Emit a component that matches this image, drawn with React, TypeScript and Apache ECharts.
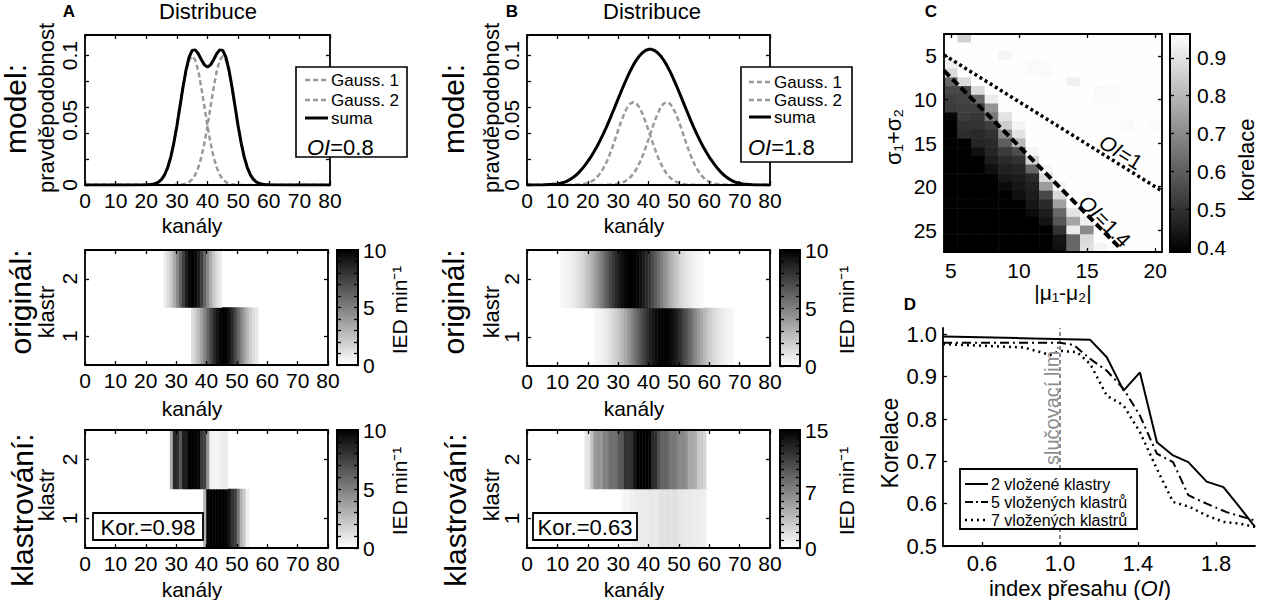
import React, { useEffect, useRef } from "react";
import * as echarts from "echarts";

const FONT = '"Liberation Sans", Arial, Helvetica, sans-serif';

// ---------- Panels A, B: distributions ----------
const channelTicks = [0, 10, 20, 30, 40, 50, 60, 70, 80];
const probLabels = [0, 0.05, 0.1];
const probTicks = [0, 0.02, 0.04, 0.06, 0.08, 0.1];

const chanA = [0, 5, 10, 15, 20, 21, 22, 23, 24, 25, 26, 27, 28, 29, 30, 31, 32, 33, 34, 35, 36, 37, 38, 39, 40, 41, 42, 43, 44, 45, 46, 47, 48, 49, 50, 51, 52, 53, 54, 55, 56, 57, 58, 59, 60, 65, 70, 75, 80];
const gauss1A = [0, 0, 0, 0,
  0.0001, 0.0002, 0.0005, 0.0011, 0.0023, 0.0044, 0.0079, 0.0135, 0.0216, 0.0324,
  0.0456, 0.0605, 0.0753, 0.0880, 0.0966, 0.0997, 0.0966, 0.0880, 0.0753, 0.0605,
  0.0456, 0.0324, 0.0216, 0.0135, 0.0079, 0.0044, 0.0023, 0.0011, 0.0005, 0.0002,
  0.0001, 0, 0, 0, 0, 0, 0, 0, 0, 0, 0,
  0, 0, 0, 0];
const gauss2A = [0, 0, 0, 0,
  0, 0, 0, 0, 0, 0, 0, 0, 0, 0,
  0.0001, 0.0002, 0.0005, 0.0011, 0.0023, 0.0044, 0.0079, 0.0135, 0.0216, 0.0324,
  0.0456, 0.0605, 0.0753, 0.0880, 0.0966, 0.0997, 0.0966, 0.0880, 0.0753, 0.0605,
  0.0456, 0.0324, 0.0216, 0.0135, 0.0079, 0.0044, 0.0023, 0.0011, 0.0005, 0.0002, 0.0001,
  0, 0, 0, 0];
const sumaA = [0, 0, 0, 0,
  0.0001, 0.0002, 0.0005, 0.0011, 0.0023, 0.0044, 0.0079, 0.0135, 0.0216, 0.0324,
  0.0457, 0.0607, 0.0758, 0.0891, 0.0989, 0.1041, 0.1045, 0.1015, 0.0969, 0.0929,
  0.0912, 0.0929, 0.0969, 0.1015, 0.1045, 0.1041, 0.0989, 0.0891, 0.0758, 0.0607,
  0.0457, 0.0324, 0.0216, 0.0135, 0.0079, 0.0044, 0.0023, 0.0011, 0.0005, 0.0002, 0.0001,
  0, 0, 0, 0];

const chanB = [0, 5, 10, 11, 12, 13, 14, 15, 16, 17, 18, 19, 20, 21, 22, 23, 24, 25, 26, 27, 28, 29, 30, 31, 32, 33, 34, 35, 36, 37, 38, 39, 40, 41, 42, 43, 44, 45, 46, 47, 48, 49, 50, 51, 52, 53, 54, 55, 56, 57, 58, 59, 60, 61, 62, 63, 64, 65, 66, 67, 68, 69, 70, 71, 75, 80];
const gauss1B = [0, 0,
  0, 0, 0, 0, 0,
  0.0001, 0.0002, 0.0003, 0.0005, 0.0009, 0.0016, 0.0025, 0.0039, 0.0059, 0.0087,
  0.0123, 0.0168, 0.0222, 0.0285, 0.0353, 0.0423, 0.0491, 0.0552, 0.0599, 0.0630,
  0.0640, 0.0630, 0.0599, 0.0552, 0.0491, 0.0423, 0.0353, 0.0285, 0.0222, 0.0168,
  0.0123, 0.0087, 0.0059, 0.0039, 0.0025, 0.0016, 0.0009, 0.0005, 0.0003, 0.0002, 0.0001,
  0, 0, 0, 0, 0, 0, 0, 0, 0, 0, 0, 0, 0, 0, 0, 0,
  0, 0];
const gauss2B = [0, 0,
  0, 0, 0, 0, 0, 0, 0, 0, 0, 0, 0, 0, 0, 0, 0, 0,
  0.0001, 0.0002, 0.0003, 0.0005, 0.0009, 0.0016, 0.0025, 0.0039, 0.0059, 0.0087,
  0.0123, 0.0168, 0.0222, 0.0285, 0.0353, 0.0423, 0.0491, 0.0552, 0.0599, 0.0630,
  0.0640, 0.0630, 0.0599, 0.0552, 0.0491, 0.0423, 0.0353, 0.0285, 0.0222, 0.0168,
  0.0123, 0.0087, 0.0059, 0.0039, 0.0025, 0.0016, 0.0009, 0.0005, 0.0003, 0.0002, 0.0001,
  0, 0, 0, 0, 0,
  0, 0];
const sumaB = [0, 0,
  0.0008, 0.0013, 0.0019, 0.0028, 0.0040, 0.0055, 0.0073, 0.0095, 0.0121, 0.0150,
  0.0182, 0.0216, 0.0255, 0.0296, 0.0341, 0.0389, 0.0440, 0.0494, 0.0551, 0.0608,
  0.0666, 0.0723, 0.0779, 0.0832, 0.0882, 0.0927, 0.0966, 0.0998, 0.1023, 0.1040, 0.1049,
  0.1049, 0.1040, 0.1023, 0.0998, 0.0966, 0.0927, 0.0882, 0.0832, 0.0779, 0.0723, 0.0666,
  0.0608, 0.0551, 0.0494, 0.0440, 0.0389, 0.0341, 0.0296, 0.0255, 0.0216, 0.0182,
  0.0150, 0.0121, 0.0095, 0.0073, 0.0055, 0.0040, 0.0028, 0.0019, 0.0013, 0.0008,
  0, 0];

// ---------- heatmaps (IED min^-1 per channel), row 0 = cluster 1, row 1 = cluster 2 ----------
const clusterCats = ["1", "2"];
const clusterTicks = [1, 2];
const iedTicks10 = [0, 1, 2, 3, 4, 5, 6, 7, 8, 9, 10];
const iedLabels10 = [0, 5, 10];
const iedTicks15 = [0, 1, 2, 3, 4, 5, 6, 7, 8, 9, 10, 11, 12, 13, 14, 15];
const iedLabels15 = [0, 7, 15];

const aOrigRow1Start = 35;
const aOrigRow1 = [1.35, 1.98, 2.78, 3.75, 4.87, 6.07, 7.26, 8.35, 9.23, 9.8, 10, 9.8, 9.23, 8.35, 7.26, 6.07, 4.87, 3.75, 2.78, 1.98, 1.35, 0.89];
const aOrigRow2Start = 26;
const aOrigRow2 = [0.8, 1.35, 2.16, 3.25, 4.58, 6.07, 7.55, 8.83, 9.69, 10, 9.69, 8.83, 7.55, 6.07, 4.58, 3.25, 2.16, 1.35, 0.8];

const aClusRow1Start = 39;
const aClusRow1 = [3.0, 9.8, 10, 10, 10, 10, 10, 9.7, 9.2, 8.0, 7.6, 5.5, 3.0, 2.0, 0.6];
const aClusRow2Start = 28;
const aClusRow2 = [3.3, 8.4, 8.2, 6.5, 8.8, 9.0, 10, 10, 9.9, 9.7, 7.8, 7.4, 4.1, 0.6, 0.4, 0.4, 0.5, 0.8, 0.7];

const bOrigRow1Start = 22;
const bOrigRow1 = [0.3, 0.41, 0.55, 0.72, 0.94, 1.2, 1.52, 1.9, 2.33, 2.83, 3.39, 4.0, 4.66, 5.36, 6.07, 6.78, 7.46, 8.11, 8.69, 9.19, 9.58, 9.84, 9.98,
  9.98, 9.84, 9.58, 9.19, 8.69, 8.11, 7.46, 6.78, 6.07, 5.36, 4.66, 4.0, 3.39, 2.83, 2.33, 1.9, 1.52, 1.2, 0.94, 0.72, 0.55, 0.41, 0.3];
const bOrigRow2Start = 11;
const bOrigRow2 = [0.26, 0.35, 0.47, 0.63, 0.82, 1.06, 1.35, 1.7, 2.11, 2.57, 3.1, 3.69, 4.33, 5.0, 5.71, 6.42, 7.12, 7.79, 8.41, 8.95, 9.4, 9.73, 9.93, 10,
  9.93, 9.73, 9.4, 8.95, 8.41, 7.79, 7.12, 6.42, 5.71, 5.0, 4.33, 3.69, 3.1, 2.57, 2.11, 1.7, 1.35, 1.06, 0.82, 0.63, 0.47, 0.35, 0.26];

const bClusRow1Start = 31;
const bClusRow1 = [0.5, 0.6, 0.6, 0.8, 1.0, 1.2, 1.2, 1.3, 1.2, 1.3, 1.4, 1.2, 1.5, 1.8, 1.7, 1.8, 1.6, 1.9, 1.7, 1.4, 1.3, 1.2, 1.3, 1.2, 1.1, 1.2, 1.0, 0.9];
const bClusRow2Start = 19;
const bClusRow2 = [1.5, 1.8, 3.8, 6.0, 6.3, 6.0, 7.4, 7.2, 8.5, 8.3, 8.6, 9.7, 9.9, 12.0, 11.8, 12.2, 13.8, 15, 15, 15, 15, 14.8, 12.6, 12.4, 10.3, 9.1, 9.3, 8.8, 7.9, 8.1, 7.6, 6.8, 7.0, 6.5, 5.0, 5.2, 4.8, 3.2, 3.0, 2.4];

// ---------- Panel C: correlation map ----------
const muDiff = [5, 6, 7, 8, 9, 10, 11, 12, 13, 14, 15, 16, 17, 18, 19, 20];
const sigmaSum = [3, 4, 5, 6, 7, 8, 9, 10, 11, 12, 13, 14, 15, 16, 17, 18, 19, 20, 21, 22, 23, 24, 25, 26, 27];
const corrTicksX = [5, 10, 15, 20];
const corrTicksY = [5, 10, 15, 20, 25];
const corrBarLabels = [0.4, 0.5, 0.6, 0.7, 0.8, 0.9];
const corrMin = 0.387;
const corrMax = 0.963;
const corrRows = [
  [0.96, 0.86, 0.96, 0.96, 0.96, 0.96, 0.96, 0.96, 0.96, 0.96, 0.96, 0.96, 0.96, 0.96, 0.96, 0.96],
  [0.96, 0.96, 0.96, 0.96, 0.96, 0.96, 0.96, 0.96, 0.96, 0.96, 0.96, 0.96, 0.96, 0.96, 0.96, 0.96],
  [0.96, 0.96, 0.96, 0.96, 0.94, 0.96, 0.96, 0.96, 0.96, 0.96, 0.96, 0.96, 0.96, 0.96, 0.96, 0.96],
  [0.93, 0.96, 0.96, 0.96, 0.96, 0.96, 0.95, 0.955, 0.96, 0.96, 0.96, 0.96, 0.96, 0.96, 0.96, 0.96],
  [0.88, 0.96, 0.96, 0.96, 0.96, 0.96, 0.955, 0.95, 0.96, 0.96, 0.96, 0.96, 0.96, 0.96, 0.96, 0.96],
  [0.62, 0.88, 0.96, 0.96, 0.96, 0.96, 0.96, 0.96, 0.96, 0.93, 0.96, 0.96, 0.96, 0.96, 0.96, 0.96],
  [0.55, 0.55, 0.88, 0.96, 0.96, 0.96, 0.96, 0.96, 0.96, 0.96, 0.96, 0.95, 0.955, 0.96, 0.96, 0.96],
  [0.53, 0.54, 0.62, 0.92, 0.96, 0.96, 0.96, 0.96, 0.96, 0.96, 0.96, 0.955, 0.95, 0.96, 0.96, 0.96],
  [0.52, 0.53, 0.53, 0.72, 0.96, 0.96, 0.96, 0.96, 0.96, 0.96, 0.96, 0.96, 0.96, 0.96, 0.96, 0.96],
  [0.40, 0.52, 0.51, 0.66, 0.90, 0.96, 0.96, 0.96, 0.96, 0.96, 0.96, 0.96, 0.96, 0.96, 0.96, 0.96],
  [0.387, 0.50, 0.50, 0.53, 0.85, 0.94, 0.96, 0.96, 0.96, 0.96, 0.96, 0.96, 0.96, 0.95, 0.96, 0.95],
  [0.387, 0.49, 0.48, 0.50, 0.70, 0.90, 0.96, 0.96, 0.96, 0.96, 0.96, 0.96, 0.96, 0.96, 0.96, 0.96],
  [0.387, 0.387, 0.47, 0.48, 0.60, 0.80, 0.96, 0.96, 0.96, 0.96, 0.96, 0.96, 0.96, 0.96, 0.96, 0.96],
  [0.387, 0.387, 0.42, 0.47, 0.52, 0.56, 0.94, 0.96, 0.96, 0.96, 0.96, 0.96, 0.96, 0.96, 0.96, 0.96],
  [0.387, 0.387, 0.387, 0.45, 0.48, 0.50, 0.86, 0.96, 0.96, 0.96, 0.96, 0.96, 0.96, 0.96, 0.96, 0.96],
  [0.387, 0.387, 0.387, 0.42, 0.46, 0.47, 0.62, 0.94, 0.96, 0.96, 0.96, 0.96, 0.96, 0.96, 0.96, 0.96],
  [0.387, 0.387, 0.387, 0.387, 0.44, 0.45, 0.48, 0.88, 0.96, 0.96, 0.96, 0.96, 0.96, 0.96, 0.96, 0.96],
  [0.387, 0.387, 0.387, 0.387, 0.41, 0.44, 0.46, 0.74, 0.94, 0.96, 0.96, 0.96, 0.96, 0.96, 0.96, 0.96],
  [0.387, 0.387, 0.387, 0.387, 0.387, 0.42, 0.45, 0.55, 0.88, 0.96, 0.96, 0.96, 0.96, 0.96, 0.96, 0.96],
  [0.387, 0.387, 0.387, 0.387, 0.387, 0.387, 0.44, 0.48, 0.75, 0.96, 0.96, 0.96, 0.96, 0.96, 0.96, 0.96],
  [0.387, 0.387, 0.387, 0.387, 0.387, 0.387, 0.41, 0.45, 0.62, 0.90, 0.96, 0.96, 0.96, 0.96, 0.96, 0.96],
  [0.387, 0.387, 0.387, 0.387, 0.387, 0.387, 0.387, 0.43, 0.58, 0.76, 0.93, 0.96, 0.96, 0.96, 0.96, 0.96],
  [0.387, 0.387, 0.387, 0.387, 0.387, 0.387, 0.387, 0.387, 0.50, 0.92, 0.70, 0.96, 0.96, 0.96, 0.96, 0.96],
  [0.387, 0.387, 0.387, 0.387, 0.387, 0.387, 0.387, 0.387, 0.43, 0.62, 0.88, 0.96, 0.96, 0.96, 0.96, 0.96],
  [0.387, 0.387, 0.387, 0.387, 0.387, 0.387, 0.387, 0.387, 0.42, 0.62, 0.89, 0.94, 0.96, 0.96, 0.96, 0.96],
];
const oi1X = [4.5, 20.5];
const oi1Y = [4.9, 20.5];
const oi14X = [4.5, 17.45];
const oi14Y = [6.7, 27.1];

// ---------- Panel D: correlation vs overlap index ----------
const olTicks = [0.6, 1.0, 1.4, 1.8];
const korTicks = [0.5, 0.6, 0.7, 0.8, 0.9, 1.0];
const kor2X = [0.4, 0.8, 1.155, 1.24, 1.326, 1.41, 1.497, 1.58, 1.658, 1.752, 1.838, 1.914, 2.0];
const kor2Y = [0.995, 0.991, 0.987, 0.946, 0.867, 0.91, 0.745, 0.714, 0.698, 0.652, 0.639, 0.596, 0.545];
const kor5X = [0.4, 0.7, 1.0, 1.07, 1.155, 1.24, 1.326, 1.41, 1.497, 1.58, 1.658, 1.752, 1.854, 2.0];
const kor5Y = [0.98, 0.98, 0.98, 0.975, 0.942, 0.914, 0.871, 0.808, 0.718, 0.698, 0.62, 0.6, 0.58, 0.56];
const kor7X = [0.4, 0.814, 0.9, 0.95, 1.0, 1.087, 1.155, 1.24, 1.326, 1.41, 1.497, 1.58, 1.667, 1.752, 1.838, 1.92, 2.0];
const kor7Y = [0.977, 0.969, 0.958, 0.951, 0.961, 0.958, 0.93, 0.855, 0.832, 0.769, 0.682, 0.604, 0.592, 0.572, 0.557, 0.553, 0.545];
const mergeX = [1.0, 1.0];
const mergeY = [0.5, 1.015];

const chanCats = Array.from({ length: 80 }, (_, i) => String(i));

function buildOption() {
  const grid: any[] = [];
  const xAxis: any[] = [];
  const yAxis: any[] = [];
  const series: any[] = [];
  const visualMap: any[] = [];
  const els: any[] = [];

  const addGrid = (left: number, top: number, width: number, height: number) => {
    grid.push({ left, top, width, height, containLabel: false });
    return grid.length - 1;
  };
  const addX = (o: any) => { xAxis.push(o); return xAxis.length - 1; };
  const addY = (o: any) => { yAxis.push(o); return yAxis.length - 1; };

  const valAx = (gi: number, min: number, max: number, position: string, ticks: number[] | null, labels: number[] | null, lab: any = {}, more: any = {}) => ({
    type: "value", gridIndex: gi, min, max, position,
    axisLine: { show: true, onZero: false, lineStyle: { color: "#000", width: 1.8 } },
    splitLine: { show: false },
    axisTick: ticks ? { show: true, inside: true, length: 4, customValues: ticks, lineStyle: { color: "#000", width: 1.3 } } : { show: false },
    axisLabel: labels ? { show: true, customValues: labels, color: "#000", fontFamily: FONT, fontSize: 21, margin: 6, ...lab } : { show: false },
    z: 10,
    ...more,
  });

  const framed = (gi: number, xmin: number, xmax: number, xTicks: number[], xLabels: number[], xLab: any,
    ymin: number, ymax: number, yTicks: number[], yLabels: number[], yLab: any, opts: any = {}) => {
    const xi = addX(valAx(gi, xmin, xmax, "bottom", xTicks, xLabels, xLab));
    const yi = addY(valAx(gi, ymin, ymax, "left", yTicks, yLabels, yLab, opts.yMore || {}));
    if (opts.box !== false) {
      addX(valAx(gi, xmin, xmax, "top", xTicks, null));
      addY(valAx(gi, ymin, ymax, "right", yTicks, null, {}, opts.yMore || {}));
    }
    return [xi, yi];
  };

  const pairs = (xs: number[], ys: number[]) => xs.map((x, i) => [x, ys[i]]);

  const line = (xi: number, yi: number, data: number[][], color: string, width: number, type: any, z = 3) => {
    series.push({
      type: "line", xAxisIndex: xi, yAxisIndex: yi, data, symbol: "none", showSymbol: false,
      lineStyle: { color, width, type, cap: "butt" }, silent: true, z, animation: false,
    });
  };

  const T = (x: number, y: number, text: string, size: number, o: any = {}) => ({
    type: "text", x, y, rotation: o.rot || 0, z: 100, silent: true,
    style: {
      text, fontSize: size, fontFamily: FONT, fontWeight: o.bold ? "bold" : "normal",
      fontStyle: o.italic ? "italic" : "normal", fill: o.color || "#000",
      textAlign: o.align || "center", textVerticalAlign: "middle",
      align: o.align || "center", verticalAlign: "middle",
      rich: o.rich,
    },
  });
  const R = (x: number, y: number, w: number, h: number, fill: any, stroke: string, lw: number, z = 99) => ({
    type: "rect", shape: { x, y, width: w, height: h }, z, silent: true,
    style: { fill, stroke, lineWidth: lw },
  });
  const L = (x1: number, y1: number, x2: number, y2: number, stroke: string, lw: number, dash?: number[]) => ({
    type: "line", shape: { x1, y1, x2, y2 }, z: 100, silent: true,
    style: { stroke, lineWidth: lw, lineDash: dash || null },
  });
  const R90 = Math.PI / 2;
  const italicRich = (size: number) => ({ i: { fontStyle: "italic", fontSize: size, fontFamily: FONT, fill: "#000" } });

  const GAUSS = "#9a9a9a";

  // ----- top distribution panels -----
  const topPanel = (left: number, width: number, chan: number[], g1: number[], g2: number[], s: number[]) => {
    const gi = addGrid(left, 35, width, 150);
    const [xi, yi] = framed(gi, 0, 80, channelTicks, channelTicks, { margin: 5 },
      0, 0.116, probTicks, probLabels, { rotate: 90, margin: 5, formatter: (v: number) => String(v) });
    line(xi, yi, pairs(chan, g1), GAUSS, 2.5, [5, 3], 3);
    line(xi, yi, pairs(chan, g2), GAUSS, 2.5, [5, 3], 3);
    line(xi, yi, pairs(chan, s), "#000", 3, "solid", 4);
  };
  topPanel(85, 245, chanA, gauss1A, gauss2A, sumaA);
  topPanel(527, 243, chanB, gauss1B, gauss2B, sumaB);

  // ----- heatmap panels -----
  const heatPanel = (left: number, top: number, w: number, h: number, rows: any[], vmax: number,
    cbLeft: number, cbW: number, cbTicks: number[], cbLabels: number[]) => {
    const gh = addGrid(left, top, w, h);
    const xh = addX({ type: "category", gridIndex: gh, data: chanCats, show: false });
    const yh = addY({ type: "category", gridIndex: gh, data: clusterCats, show: false });
    const data: any[] = [];
    rows.forEach((r: any) => r.vals.forEach((v: number, k: number) => data.push([r.start + k, r.row, v])));
    series.push({
      type: "heatmap", xAxisIndex: xh, yAxisIndex: yh, data, silent: true, z: 2,
      itemStyle: { borderWidth: 0 }, emphasis: { disabled: true },
    });
    visualMap.push({
      type: "continuous", show: false, seriesIndex: series.length - 1, dimension: 2,
      min: 0, max: vmax, inRange: { color: ["#ffffff", "#000000"] },
    });
    const go = addGrid(left, top, w, h);
    framed(go, 0, 80, channelTicks, channelTicks, { margin: 5 },
      0.5, 2.5, clusterTicks, clusterTicks, { rotate: 90, margin: 5 });
    const gc = addGrid(cbLeft, top, cbW, h);
    addX({ type: "value", gridIndex: gc, min: 0, max: 1, show: false });
    addY(valAx(gc, 0, vmax, "right", cbTicks, cbLabels, { margin: 5 }));
    addY(valAx(gc, 0, vmax, "left", cbTicks, null));
    els.push(R(cbLeft, top, cbW, h, new echarts.graphic.LinearGradient(0, 0, 0, 1, [
      { offset: 0, color: "#000000" }, { offset: 1, color: "#ffffff" }]), "#000", 1.8, 1));
  };
  heatPanel(85, 250, 243, 115, [
    { start: aOrigRow1Start, vals: aOrigRow1, row: 0 },
    { start: aOrigRow2Start, vals: aOrigRow2, row: 1 }], 10, 337, 21, iedTicks10, iedLabels10);
  heatPanel(85, 430, 243, 118, [
    { start: aClusRow1Start, vals: aClusRow1, row: 0 },
    { start: aClusRow2Start, vals: aClusRow2, row: 1 }], 10, 337, 21, iedTicks10, iedLabels10);
  heatPanel(527, 250, 243, 116, [
    { start: bOrigRow1Start, vals: bOrigRow1, row: 0 },
    { start: bOrigRow2Start, vals: bOrigRow2, row: 1 }], 10, 780, 20, iedTicks10, iedLabels10);
  heatPanel(527, 430, 243, 118, [
    { start: bClusRow1Start, vals: bClusRow1, row: 0 },
    { start: bClusRow2Start, vals: bClusRow2, row: 1 }], 15, 780, 20, iedTicks15, iedLabels15);

  // ----- panel C -----
  {
    const gh = addGrid(944, 34, 218, 218);
    const xh = addX({ type: "category", gridIndex: gh, data: muDiff.map(String), show: false });
    const yh = addY({ type: "category", gridIndex: gh, data: sigmaSum.map(String), show: false, inverse: true });
    const data: any[] = [];
    corrRows.forEach((row, r) => row.forEach((v, c) => data.push([c, r, v])));
    series.push({
      type: "heatmap", xAxisIndex: xh, yAxisIndex: yh, data, silent: true, z: 2,
      itemStyle: { borderWidth: 0 }, emphasis: { disabled: true },
    });
    visualMap.push({
      type: "continuous", show: false, seriesIndex: series.length - 1, dimension: 2,
      min: corrMin, max: corrMax, inRange: { color: ["#000000", "#ffffff"] },
    });
    const go = addGrid(944, 34, 218, 218);
    const [xi, yi] = framed(go, 4.5, 20.5, corrTicksX, corrTicksX, { margin: 8 },
      2.5, 27.5, corrTicksY, corrTicksY, { margin: 7 }, { yMore: { inverse: true } });
    line(xi, yi, pairs(oi1X, oi1Y), "#000", 3.5, [3, 3], 5);
    line(xi, yi, pairs(oi14X, oi14Y), "#000", 4, [8, 4], 5);
    const gc = addGrid(1170, 34, 20, 218);
    addX({ type: "value", gridIndex: gc, min: 0, max: 1, show: false });
    addY(valAx(gc, corrMin, corrMax, "right", corrBarLabels, corrBarLabels, { margin: 7, formatter: (v: number) => v.toFixed(1) }));
    addY(valAx(gc, corrMin, corrMax, "left", corrBarLabels, null));
    els.push(R(1170, 34, 20, 218, new echarts.graphic.LinearGradient(0, 0, 0, 1, [
      { offset: 0, color: "#ffffff" }, { offset: 1, color: "#000000" }]), "#000", 1.8, 1));
  }

  // ----- panel D -----
  {
    const gi = addGrid(943, 328, 312, 218);
    const [xi, yi] = framed(gi, 0.4, 2.0, olTicks, olTicks, { margin: 6, fontSize: 22, formatter: (v: number) => v.toFixed(1) },
      0.5, 1.015, korTicks, korTicks, { margin: 6, fontSize: 22, formatter: (v: number) => v.toFixed(1) }, { box: false });
    line(xi, yi, pairs(mergeX, mergeY), "#8c8c8c", 2, [4, 3], 2);
    line(xi, yi, pairs(kor2X, kor2Y), "#000", 2, "solid", 4);
    line(xi, yi, pairs(kor5X, kor5Y), "#000", 2, [9, 4, 2, 4], 4);
    line(xi, yi, pairs(kor7X, kor7Y), "#000", 2.5, [2, 4], 4);
  }

  // ----- texts -----
  els.push(
    T(69, 11, "A", 17, { bold: true }), T(512, 11, "B", 17, { bold: true }),
    T(931, 11, "C", 17, { bold: true }), T(910, 304, "D", 17, { bold: true }),
    T(208, 11, "Distribuce", 22), T(652, 11, "Distribuce", 22),
    T(15, 109, "model:", 30, { rot: R90 }), T(453, 109, "model:", 30, { rot: R90 }),
    T(20, 302, "originál:", 30, { rot: R90 }), T(453, 302, "originál:", 30, { rot: R90 }),
    T(22, 510, "klastrování:", 30, { rot: R90 }), T(455, 510, "klastrování:", 30, { rot: R90 }),
    T(46, 108, "pravděpodobnost", 22, { rot: R90 }), T(491, 108, "pravděpodobnost", 22, { rot: R90 }),
    T(46, 312, "klastr", 22, { rot: R90 }), T(491, 312, "klastr", 22, { rot: R90 }),
    T(46, 495, "klastr", 22, { rot: R90 }), T(491, 495, "klastr", 22, { rot: R90 }),
    T(192, 225, "kanály", 21), T(634, 225, "kanály", 21),
    T(192, 408, "kanály", 21), T(634, 408, "kanály", 21),
    T(192, 589, "kanály", 21), T(634, 589, "kanály", 21),
    T(399, 310, "IED min⁻¹", 21, { rot: R90 }), T(399, 491, "IED min⁻¹", 21, { rot: R90 }),
    T(846, 310, "IED min⁻¹", 21, { rot: R90 }), T(846, 491, "IED min⁻¹", 21, { rot: R90 }),
    T(893, 137, "σ₁+σ₂", 22, { rot: R90 }),
    T(1063, 292, "|μ₁-μ₂|", 21),
    T(1246, 160, "korelace", 22, { rot: R90 }),
    T(1121, 152, "{i|OI}=1", 21, { rot: -0.56, rich: italicRich(21) }),
    T(1105, 221, "{i|OI}=1.4", 21, { rot: -0.79, rich: italicRich(21) }),
    T(890, 443, "Korelace", 23, { rot: R90 }),
    T(1080, 588, "index přesahu ({i|OI})", 22, { rich: italicRich(22) }),
    T(1052, 405, "slučovací lim.", 20, { rot: R90, color: "#8c8c8c" }),
  );

  // legend A
  els.push(
    R(296, 67, 111, 90, "#fff", "#000", 1.6),
    L(305, 80, 328, 80, GAUSS, 2.5, [5, 3]), T(331, 80, "Gauss. 1", 17, { align: "left" }),
    L(305, 100, 328, 100, GAUSS, 2.5, [5, 3]), T(331, 100, "Gauss. 2", 17, { align: "left" }),
    L(305, 118, 328, 118, "#000", 3), T(331, 118, "suma", 17, { align: "left" }),
    T(307, 147, "{i|OI}=0.8", 22, { align: "left", rich: italicRich(22) }),
  );
  // legend B
  els.push(
    R(741, 67, 111, 95, "#fff", "#000", 1.6),
    L(749, 82, 771, 82, GAUSS, 2.5, [5, 3]), T(774, 82, "Gauss. 1", 17, { align: "left" }),
    L(749, 100, 771, 100, GAUSS, 2.5, [5, 3]), T(774, 100, "Gauss. 2", 17, { align: "left" }),
    L(749, 117, 771, 117, "#000", 3), T(774, 117, "suma", 17, { align: "left" }),
    T(748, 147, "{i|OI}=1.8", 22, { align: "left", rich: italicRich(22) }),
  );
  // Kor boxes
  els.push(
    R(93, 513, 110, 27, "#fff", "#000", 1.8), T(148, 527, "Kor.=0.98", 22),
    R(533, 513, 104, 27, "#fff", "#000", 1.8), T(585, 527, "Kor.=0.63", 22),
  );
  // legend D
  els.push(
    R(960, 469, 177, 60, "#fff", "#000", 1.8),
    L(965, 484, 988, 484, "#000", 2), T(991, 484, "2 vložené klastry", 16, { align: "left" }),
    L(965, 502, 988, 502, "#000", 2, [8, 3, 2, 3]), T(991, 502, "5 vložených klastrů", 16, { align: "left" }),
    L(965, 520, 988, 520, "#000", 2.5, [2, 4]), T(991, 520, "7 vložených klastrů", 16, { align: "left" }),
  );

  return {
    animation: false,
    backgroundColor: "#ffffff",
    textStyle: { fontFamily: FONT },
    grid, xAxis, yAxis, series, visualMap,
    graphic: { elements: els },
  };
}

export default function App() {
  const ref = useRef<HTMLDivElement>(null);
  useEffect(() => {
    if (!ref.current) return;
    const chart = echarts.init(ref.current, null, { renderer: "svg" });
    chart.setOption(buildOption() as any);
    return () => chart.dispose();
  }, []);
  return (
    <div
      ref={ref}
      style={{ position: "fixed", left: 0, top: 0, width: 1263, height: 600, background: "#fff" }}
    />
  );
}
